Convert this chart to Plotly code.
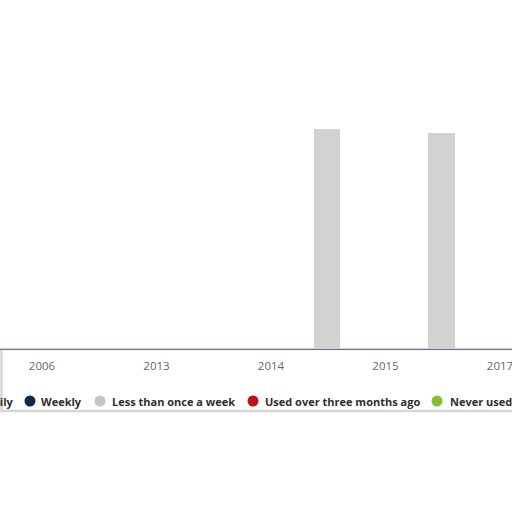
import plotly.graph_objects as go

categories = ["2006", "2013", "2014", "2015", "2017"]
series_names = ["Daily", "Weekly", "Less than once a week",
                "Used over three months ago", "Never used"]
daily = [0, 0, 0, 0, 0]
weekly = [0, 0, 0, 0, 0]
less_than_weekly = [0, 0, 63, 62, 0]
over_three_months = [0, 0, 0, 0, 0]
never_used = [0, 0, 0, 0, 0]
series_values = [daily, weekly, less_than_weekly, over_three_months, never_used]
colors = ["#6f95c9", "#0d2a4c", "#c4c4c4", "#c0101c", "#86bf33"]
bar_colors = ["#6f95c9", "#0d2a4c", "#d2d2d2", "#c0101c", "#86bf33"]

W, H = 512, 512
plot_bottom = 349  # px from top
fig = go.Figure()
for name, vals, c in zip(series_names, series_values, bar_colors):
    fig.add_trace(go.Bar(x=categories, y=vals, name=name, marker_color=c,
                         marker_line_width=0, width=0.23, offset=0.375,
                         showlegend=False))

def px_x(p):
    return p / W

def px_y(p):
    return -(p - plot_bottom) / plot_bottom

# legend (drawn as annotations + circle markers)
dot_x = [-27, 30, 100, 253, 437]
text_x = [-17, 39, 110, 263, 448]
leg_y = px_y(401)
shapes = []
annotations = []
for name, c, dx, tx in zip(series_names, colors, dot_x, text_x):
    shapes.append(dict(type="circle", xref="paper", yref="paper",
                       xsizemode="pixel", ysizemode="pixel",
                       xanchor=px_x(dx), yanchor=leg_y,
                       x0=-5.5, x1=5.5, y0=-5.5, y1=5.5,
                       fillcolor=c, line_width=0))
    annotations.append(dict(text="<b>" + name + "</b>", xref="paper", yref="paper",
                            x=px_x(tx), y=leg_y, xanchor="left", yanchor="middle",
                            showarrow=False,
                            font=dict(family="Open Sans", size=11, color="#2e2e2e")))

# frame around axis/legend area
shapes.insert(0, dict(type="rect", xref="paper", yref="paper",
                      x0=px_x(1.5), x1=px_x(530), y0=px_y(349), y1=px_y(411),
                      line=dict(color="#d6d6d6", width=2.5), fillcolor="rgba(0,0,0,0)",
                      layer="below"))

r0 = -42 / 114.5
r1 = r0 + W / 114.5
fig.update_layout(
    width=W, height=H,
    barmode="stack",
    paper_bgcolor="white", plot_bgcolor="white",
    margin=dict(l=0, r=0, t=0, b=H - plot_bottom, autoexpand=False),
    xaxis=dict(type="category", range=[r0, r1], showgrid=False,
               showline=True, linecolor="#5f7590", linewidth=1.2,
               ticks="", tickfont=dict(family="Open Sans", size=11.5, color="#666666"),
               ticklabelstandoff=6),
    yaxis=dict(range=[0, 100], visible=False),
    shapes=shapes,
    annotations=annotations,
    showlegend=False,
)
fig.write_html("out.html", config={"displayModeBar": False},
               post_script="document.body.style.margin='0';"
                           "document.body.style.overflow='hidden';")
